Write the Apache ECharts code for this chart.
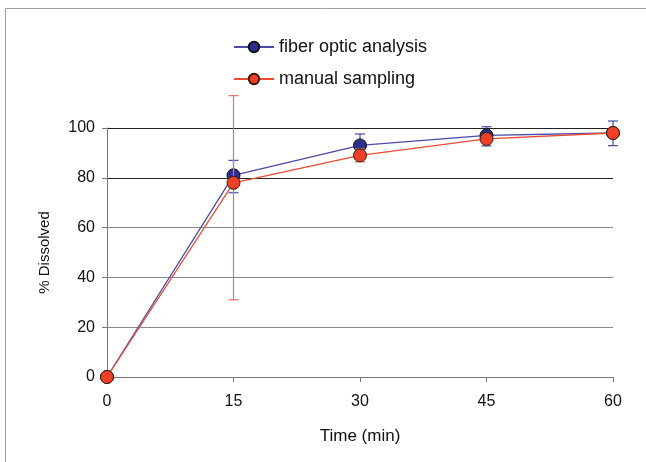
<!DOCTYPE html>
<html><head><meta charset="utf-8">
<script src="https://cdn.jsdelivr.net/npm/echarts@6/dist/echarts.min.js"></script>
<style>html,body{margin:0;padding:0;background:#fff}#c{width:646px;height:462px}</style>
</head><body><div id="c"></div>
<script>
const times = [0, 15, 30, 45, 60];
const fiberValues = [0, 81, 93, 97, 98];
const fiberLow  = [0, 74, 88.5, 92.8, 92.9];
const fiberHigh = [0, 87, 97.6, 100.5, 102.8];
const manualValues = [0, 78, 89, 95.6, 98];
const manualLow  = [0, 31, 86.4, 95.6, 98];
const manualHigh = [0, 113, 91.6, 95.6, 98];
const yTicks = [0, 20, 40, 60, 80, 100];

const FIBER_LINE = '#4a4aa8', FIBER_FILL = '#2b2f8f';
const MAN_LINE = '#ec4b35', MAN_FILL = '#ee4026';

function pairs(v){ return times.map((t,i)=>[t, v[i]]); }
function errData(lo, hi){ return times.map((t,i)=>[t, lo[i], hi[i]]).filter(d=>d[2]>d[1]); }
function errRender(color){
  return function(params, api){
    const x = api.value(0);
    const lo = api.coord([x, api.value(1)]);
    const hi = api.coord([x, api.value(2)]);
    const w = 5;
    const st = {stroke: color, lineWidth: 1.2};
    return {type:'group', children:[
      {type:'line', shape:{x1:lo[0],y1:lo[1],x2:hi[0],y2:hi[1]}, style:st},
      {type:'line', shape:{x1:lo[0]-w,y1:lo[1],x2:lo[0]+w,y2:lo[1]}, style:st},
      {type:'line', shape:{x1:hi[0]-w,y1:hi[1],x2:hi[0]+w,y2:hi[1]}, style:st}
    ]};
  };
}

const chart = echarts.init(document.getElementById('c'));
chart.setOption({
  animation:false,
  textStyle:{fontFamily:'Liberation Sans, Arial, sans-serif'},
  graphic:[
    {type:'line', shape:{x1:5.5,y1:8.5,x2:646,y2:8.5}, style:{stroke:'#a0a0a0',lineWidth:1}},
    {type:'line', shape:{x1:5.5,y1:8.5,x2:5.5,y2:462}, style:{stroke:'#a0a0a0',lineWidth:1}}
  ],
  legend:{
    orient:'vertical', left:228, top:33, itemGap:14, itemWidth:40, itemHeight:13,
    textStyle:{fontSize:18, color:'#111', fontFamily:'Liberation Sans, Arial, sans-serif'},
    data:['fiber optic analysis','manual sampling']
  },
  grid:{left:107, right:33, top:128, bottom:85},
  xAxis:{
    type:'value', min:0, max:60, interval:15,
    name:'Time (min)', nameLocation:'middle', nameGap:51,
    nameTextStyle:{fontSize:17, color:'#111'},
    axisLine:{lineStyle:{color:'#777', width:1}},
    axisTick:{show:true, length:5, lineStyle:{color:'#777'}},
    axisLabel:{fontSize:16, color:'#111', margin:17},
    splitLine:{show:false}
  },
  yAxis:{
    type:'value', min:0, max:100, interval:20,
    name:'% Dissolved', nameLocation:'middle', nameGap:55, nameRotate:90,
    nameTextStyle:{fontSize:15, color:'#111'},
    axisLine:{show:true, lineStyle:{color:'#777', width:1}},
    axisTick:{show:true, length:5, lineStyle:{color:'#777'}},
    axisLabel:{fontSize:16, color:'#111', margin:12,
      formatter:(v)=> yTicks.includes(v) ? String(v) : ''},
    splitLine:{show:true, lineStyle:{color:['#777','#888','#888','#888','#222','#222'], width:1}}
  },
  series:[
    {name:'fiber optic analysis', type:'line', data:pairs(fiberValues), z:3,
     symbol:'circle', symbolSize:13,
     lineStyle:{color:FIBER_LINE, width:1.3},
     itemStyle:{color:FIBER_FILL, borderColor:'#111', borderWidth:1}},
    {name:'fiber err', type:'custom', data:errData(fiberLow, fiberHigh), renderItem:errRender('#4a4aa8'),
     clip:false, z:2, encode:{x:0, y:[1,2]}},
    {name:'manual sampling', type:'line', data:pairs(manualValues), z:5,
     symbol:'circle', symbolSize:13,
     lineStyle:{color:MAN_LINE, width:1.3},
     itemStyle:{color:MAN_FILL, borderColor:'#3a1a10', borderWidth:1}},
    {name:'manual err', type:'custom', data:errData(manualLow, manualHigh), renderItem:errRender('#e8705e'),
     clip:false, z:4, encode:{x:0, y:[1,2]}}
  ]
});
</script></body></html>
